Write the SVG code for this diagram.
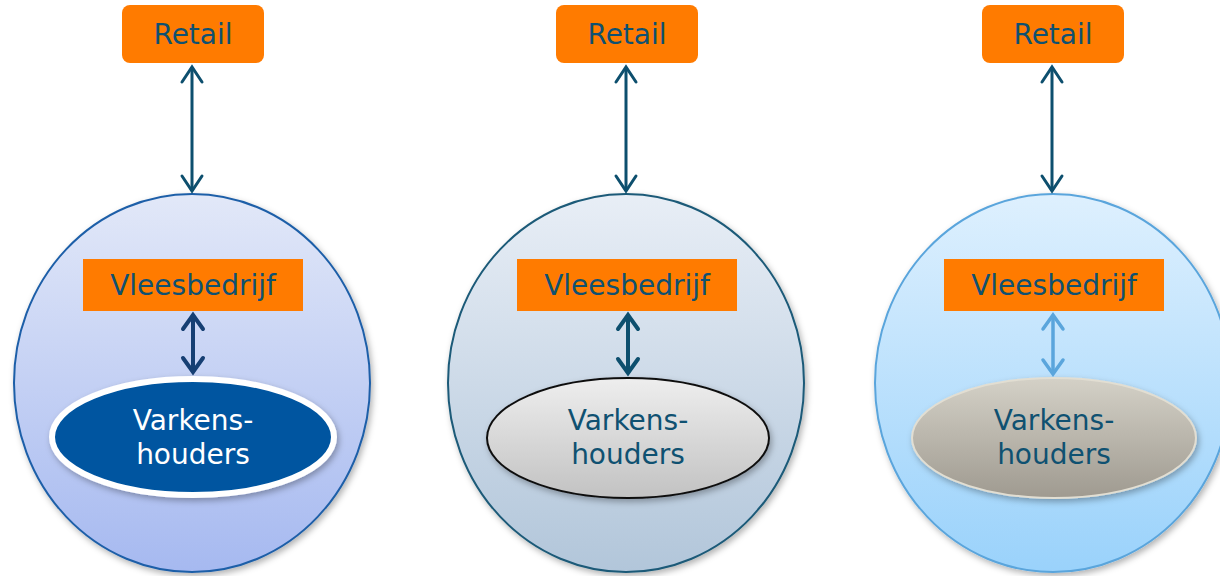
<svg xmlns="http://www.w3.org/2000/svg" width="1220" height="576" viewBox="0 0 1220 576">
<defs>
<style>
.lbl{font-family:"DejaVu Sans",Verdana,sans-serif;font-size:28px;fill:#0f5171;text-anchor:middle}
.wht{fill:#ffffff}
.box{fill:#ff7b00}
.big{stroke-width:2}
</style>
<linearGradient id="g1" x1="0" y1="0" x2="0" y2="1"><stop offset="0" stop-color="#e2e8f8"/><stop offset="1" stop-color="#a6b9f0"/></linearGradient>
<linearGradient id="g2" x1="0" y1="0" x2="0" y2="1"><stop offset="0" stop-color="#e8eef6"/><stop offset="1" stop-color="#b2c6da"/></linearGradient>
<linearGradient id="g3" x1="0" y1="0" x2="0" y2="1"><stop offset="0" stop-color="#def0fe"/><stop offset="1" stop-color="#9ad2fb"/></linearGradient>
<linearGradient id="e2" x1="0" y1="0" x2="0" y2="1"><stop offset="0" stop-color="#eeeeee"/><stop offset="1" stop-color="#c2c2c2"/></linearGradient>
<linearGradient id="e3" x1="0" y1="0" x2="0" y2="1"><stop offset="0" stop-color="#d4d1c7"/><stop offset="1" stop-color="#9f9a90"/></linearGradient>
<filter id="sh" x="-10%" y="-10%" width="120%" height="125%"><feDropShadow dx="2" dy="3" stdDeviation="3" flood-color="#000" flood-opacity="0.3"/></filter>
<marker id="mA" markerUnits="userSpaceOnUse" markerWidth="30" markerHeight="30" viewBox="-20 -15 30 30" refX="0" refY="0" orient="auto-start-reverse"><path d="M-15,-10 L0,0 L-15,10" fill="none" stroke="#0d4f6e" stroke-width="3" stroke-linecap="round"/></marker>
<marker id="mB" markerUnits="userSpaceOnUse" markerWidth="30" markerHeight="30" viewBox="-20 -15 30 30" refX="0" refY="0" orient="auto-start-reverse"><path d="M-14,-10 L0,0 L-14,10" fill="none" stroke="#163f73" stroke-width="4" stroke-linecap="round"/></marker>
<marker id="mC" markerUnits="userSpaceOnUse" markerWidth="30" markerHeight="30" viewBox="-20 -15 30 30" refX="0" refY="0" orient="auto-start-reverse"><path d="M-14,-10 L0,0 L-14,10" fill="none" stroke="#0d4f6e" stroke-width="4" stroke-linecap="round"/></marker>
<marker id="mD" markerUnits="userSpaceOnUse" markerWidth="30" markerHeight="30" viewBox="-20 -15 30 30" refX="0" refY="0" orient="auto-start-reverse"><path d="M-14,-10 L0,0 L-14,10" fill="none" stroke="#5aa5dc" stroke-width="3.5" stroke-linecap="round"/></marker>
</defs>
<rect width="1220" height="576" fill="#ffffff"/>

<g id="cluster1">
<ellipse cx="192" cy="383" rx="178" ry="189" fill="url(#g1)" stroke="#1f5fa8" class="big" filter="url(#sh)"/>
</g>
<g id="cluster2">
<ellipse cx="626" cy="383" rx="178" ry="189" fill="url(#g2)" stroke="#1b5a78" class="big" filter="url(#sh)"/>
</g>
<g id="cluster3">
<ellipse cx="1053" cy="383" rx="178" ry="189" fill="url(#g3)" stroke="#5aa5dc" class="big" filter="url(#sh)"/>
</g>

<g id="retail1"><rect class="box" x="122" y="5" width="142" height="58" rx="8"/><text class="lbl" x="193" y="44">Retail</text></g>
<g id="retail2"><rect class="box" x="556" y="5" width="142" height="58" rx="8"/><text class="lbl" x="627" y="44">Retail</text></g>
<g id="retail3"><rect class="box" x="982" y="5" width="142" height="58" rx="8"/><text class="lbl" x="1053" y="44">Retail</text></g>

<g id="vlees1"><rect class="box" x="83" y="259" width="220" height="52"/><text class="lbl" x="193" y="295">Vleesbedrijf</text></g>
<g id="vlees2"><rect class="box" x="517" y="259" width="220" height="52"/><text class="lbl" x="627" y="295">Vleesbedrijf</text></g>
<g id="vlees3"><rect class="box" x="944" y="259" width="220" height="52"/><text class="lbl" x="1054" y="295">Vleesbedrijf</text></g>

<g id="varkens1"><ellipse cx="193" cy="437" rx="141" ry="58" fill="#0055a0" stroke="#ffffff" stroke-width="6" filter="url(#sh)"/><text class="lbl wht" x="193" y="430">Varkens-</text><text class="lbl wht" x="193" y="464">houders</text></g>
<g id="varkens2"><ellipse cx="628" cy="438" rx="141" ry="60" fill="url(#e2)" stroke="#111111" stroke-width="2" filter="url(#sh)"/><text class="lbl" x="628" y="430">Varkens-</text><text class="lbl" x="628" y="464">houders</text></g>
<g id="varkens3"><ellipse cx="1054" cy="438" rx="142" ry="60" fill="url(#e3)" stroke="#e2ded2" stroke-width="2" filter="url(#sh)"/><text class="lbl" x="1054" y="430">Varkens-</text><text class="lbl" x="1054" y="464">houders</text></g>

<g id="connectors" fill="none">
<line x1="192" y1="67" x2="192" y2="191" stroke="#0d4f6e" stroke-width="3" marker-start="url(#mA)" marker-end="url(#mA)"/>
<line x1="626" y1="67" x2="626" y2="191" stroke="#0d4f6e" stroke-width="3" marker-start="url(#mA)" marker-end="url(#mA)"/>
<line x1="1052" y1="67" x2="1052" y2="191" stroke="#0d4f6e" stroke-width="3" marker-start="url(#mA)" marker-end="url(#mA)"/>
<line x1="193" y1="315" x2="193" y2="372" stroke="#163f73" stroke-width="4" marker-start="url(#mB)" marker-end="url(#mB)"/>
<line x1="628" y1="315" x2="628" y2="373" stroke="#0d4f6e" stroke-width="4" marker-start="url(#mC)" marker-end="url(#mC)"/>
<line x1="1053" y1="315" x2="1053" y2="374" stroke="#5aa5dc" stroke-width="3.5" marker-start="url(#mD)" marker-end="url(#mD)"/>
</g>
</svg>
